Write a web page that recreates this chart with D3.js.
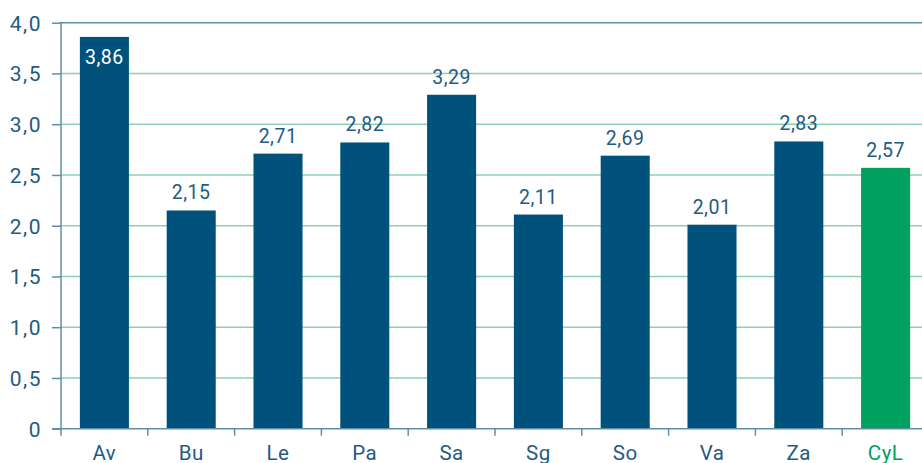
<!DOCTYPE html>
<html>
<head>
<meta charset="utf-8">
<script src="https://cdn.jsdelivr.net/npm/d3@7"></script>
<style>
  html, body { margin: 0; padding: 0; background: #fff; overflow: hidden; }
  svg { display: block; font-family: Roboto, "Noto Sans", sans-serif; font-weight: 400; }
</style>
</head>
<body>
<div id="chart"></div>
<script>
// data
var categories = ["Av", "Bu", "Le", "Pa", "Sa", "Sg", "So", "Va", "Za", "CyL"];
var values = [3.86, 2.15, 2.71, 2.82, 3.29, 2.11, 2.69, 2.01, 2.83, 2.57];
var yTicks = [0, 0.5, 1.0, 1.5, 2.0, 2.5, 3.0, 3.5, 4.0];

var width = 922, height = 463;
var x0 = 61, x1 = 929, yTop = 22.7, yBottom = 428.7;

var blue = "#00527d", green = "#00a05e", textBlue = "#1f5b84", axisBlue = "#5f8dac", gridGreen = "#8fd0b0";

var fmt = function(v, d){ return v.toFixed(d).replace(".", ","); };

var svg = d3.select("#chart").append("svg")
    .attr("width", width)
    .attr("height", height);

var x = d3.scaleBand()
    .domain(categories)
    .range([x0, x1])
    .paddingInner(0.435)
    .paddingOuter(0.2175);

var y = d3.scaleLinear()
    .domain([0, 4])
    .range([yBottom, yTop]);

// grid lines
svg.append("g").selectAll("line")
    .data(yTicks.filter(function(t){ return t > 0; }))
    .enter().append("line")
    .attr("x1", x0).attr("x2", width)
    .attr("y1", function(d){ return y(d); })
    .attr("y2", function(d){ return y(d); })
    .attr("stroke", function(d){ return d === 4 ? axisBlue : gridGreen; })
    .attr("stroke-width", 1.5);

// bars
svg.append("g").selectAll("rect")
    .data(values)
    .enter().append("rect")
    .attr("x", function(d, i){ return x(categories[i]); })
    .attr("width", x.bandwidth())
    .attr("y", function(d){ return y(d); })
    .attr("height", function(d){ return y(0) - y(d); })
    .attr("fill", function(d, i){ return categories[i] === "CyL" ? green : blue; });

// value labels
svg.append("g").selectAll("text")
    .data(values)
    .enter().append("text")
    .attr("x", function(d, i){ return x(categories[i]) + x.bandwidth() / 2; })
    .attr("y", function(d, i){ return i === 0 ? y(d) + 27 : y(d) - 11; })
    .attr("text-anchor", "middle")
    .attr("font-size", 19.5)
    .attr("letter-spacing", 0.5)
    .attr("fill", function(d, i){ return i === 0 ? "#fff" : textBlue; })
    .text(function(d){ return fmt(d, 2); });

// y axis
var yAxis = d3.axisLeft(y)
    .tickValues(yTicks)
    .tickSize(9)
    .tickPadding(10)
    .tickFormat(function(d){ return d === 0 ? "0" : fmt(d, 1); });

var gy = svg.append("g")
    .attr("transform", "translate(" + x0 + ",0)")
    .call(yAxis);
gy.select(".domain").remove();
gy.selectAll(".tick line").attr("stroke", axisBlue).attr("stroke-width", 1.5);
gy.selectAll(".tick text")
    .attr("fill", textBlue)
    .attr("font-size", 21)
    .attr("letter-spacing", 1.5)
    .attr("font-family", "Roboto, sans-serif")
    .attr("font-weight", 400)
    .attr("dy", "0.35em");

svg.append("line")
    .attr("x1", x0).attr("x2", x0)
    .attr("y1", yTop - 1).attr("y2", yBottom + 7)
    .attr("stroke", axisBlue).attr("stroke-width", 1.5);

// x axis
svg.append("line")
    .attr("x1", x0 - 9).attr("x2", width)
    .attr("y1", yBottom).attr("y2", yBottom)
    .attr("stroke", axisBlue).attr("stroke-width", 1.5);

svg.append("g").selectAll("line")
    .data(categories.slice(1))
    .enter().append("line")
    .attr("x1", function(d){ return x(d) - x.step() * x.paddingInner() / 2; })
    .attr("x2", function(d){ return x(d) - x.step() * x.paddingInner() / 2; })
    .attr("y1", yBottom).attr("y2", yBottom + 7)
    .attr("stroke", axisBlue).attr("stroke-width", 1.5);

svg.append("g").selectAll("text")
    .data(categories)
    .enter().append("text")
    .attr("x", function(d){ return x(d) + x.bandwidth() / 2; })
    .attr("y", 460)
    .attr("text-anchor", "middle")
    .attr("font-size", 20.5)
    .attr("letter-spacing", 0.5)
    .attr("fill", function(d){ return d === "CyL" ? green : textBlue; })
    .text(function(d){ return d; });
</script>
</body>
</html>
